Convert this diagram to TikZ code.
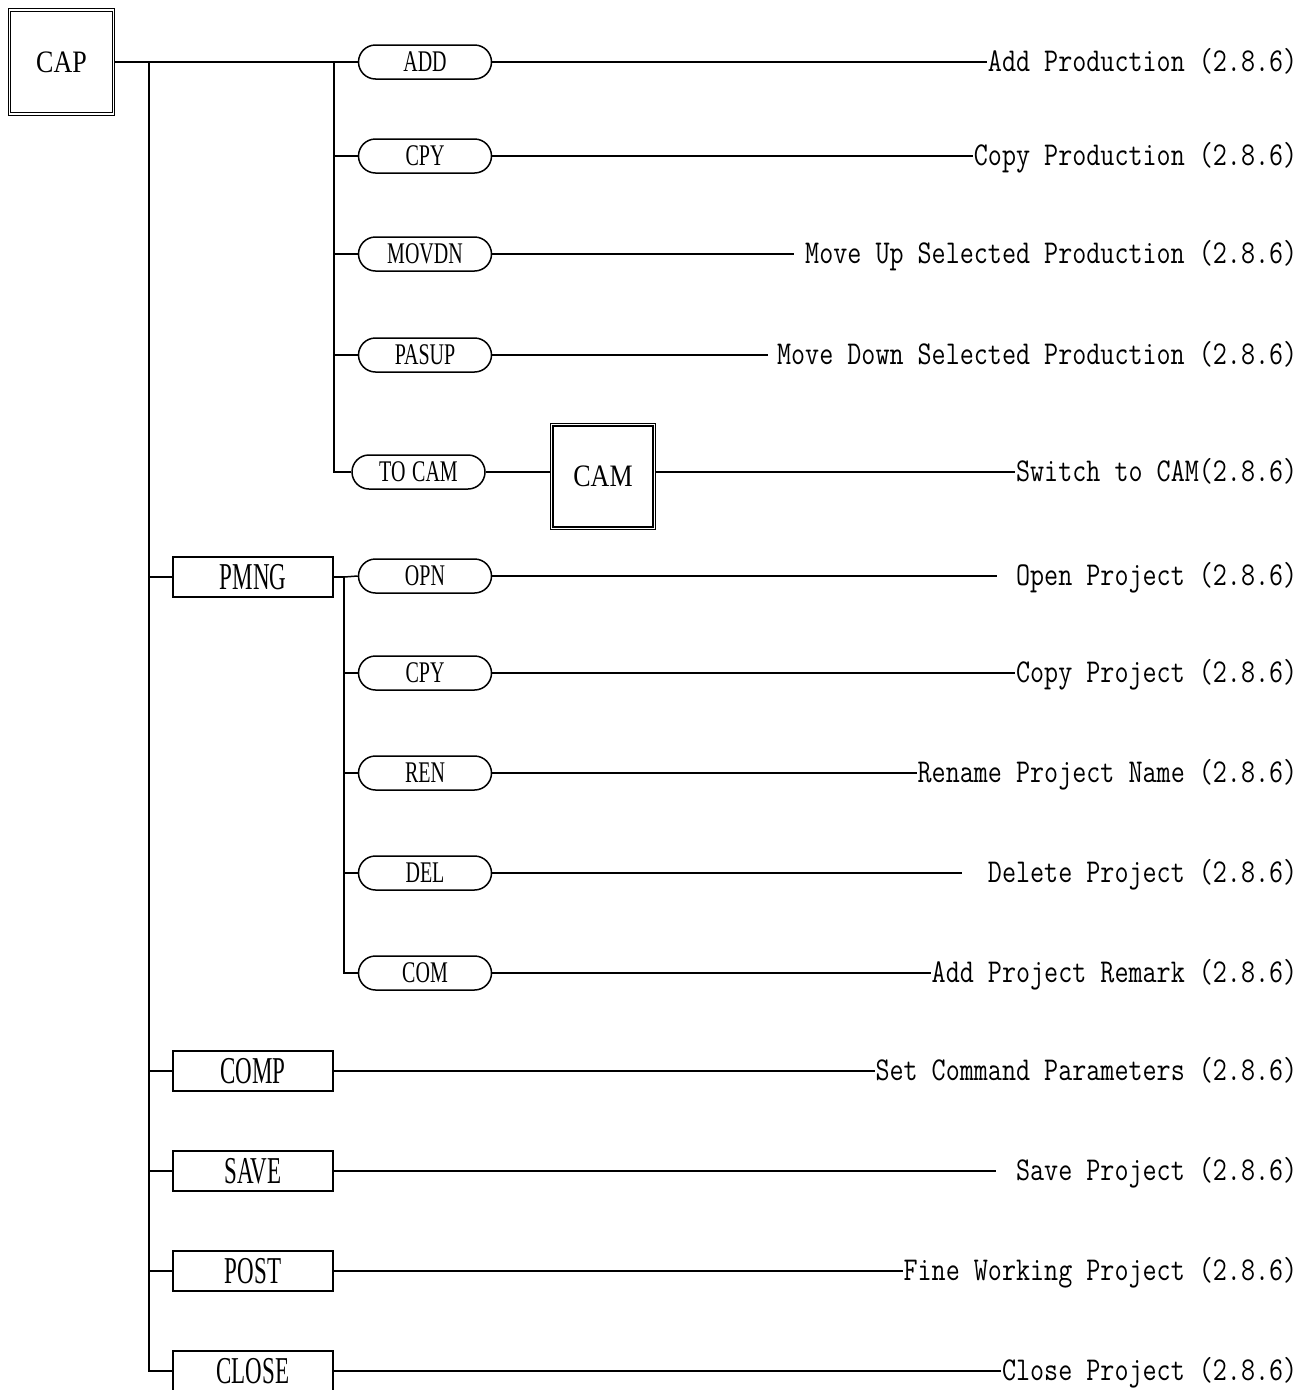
\documentclass[tikz,border=0pt]{standalone}
\usepackage{fontspec}
\setmainfont{Liberation Serif}
\newcommand\pl[1]{\scalebox{1}[1.5]{#1}}
\newcommand\bl[1]{\scalebox{1}[1.65]{#1}}
\newcommand\dl[1]{\scalebox{1}[1.22]{#1}}
\newcommand\cl[1]{\scalebox{1}[1.2]{#1}}
\begin{document}
\begin{tikzpicture}[x=1pt,y=-1pt,
  line width=1.5pt,
  pill/.style={draw, rounded corners=17pt, minimum width=133pt, minimum height=34pt, inner sep=0pt,
    font=\fontsize{20}{24}\selectfont},
  rbox/.style={draw, minimum width=160pt, minimum height=40pt, inner sep=0pt,
    font=\fontsize{23}{28}\selectfont},
  dbox/.style={draw, double, line width=1.2pt, double distance=1.2pt, inner sep=0pt,
    font=\fontsize{26}{30}\selectfont},
  desc/.style={inner sep=0pt, anchor=base east, font=\ttfamily\fontsize{27.3}{30}\selectfont},
  trunk/.style={line width=2.5pt}
]
\useasboundingbox (0,0) rectangle (1312,1390);

% top-level boxes
\node[dbox, minimum width=104pt, minimum height=104pt] (cap) at (61.5,62) {\cl{CAP}};
\node[dbox, minimum width=102.4pt, minimum height=103.4pt] (cam) at (603,476.5) {\cl{CAM}};

% pills of CAP
\node[pill] (add)   at (425,62)  {\pl{ADD}};
\node[pill] (cpyA)  at (425,156) {\pl{CPY}};
\node[pill] (movdn) at (425,254) {\pl{MOVDN}};
\node[pill] (pasup) at (425,355) {\pl{PASUP}};
\node[pill] (tocam) at (418.5,472) {\pl{TO\,\,CAM}};

% rect boxes
\node[rbox] (pmng)  at (253,577)  {\bl{PMNG}};
\node[rbox] (comp)  at (253,1071) {\bl{COMP}};
\node[rbox] (save)  at (253,1171) {\bl{SAVE}};
\node[rbox] (post)  at (253,1271) {\bl{POST}};
\node[rbox] (close) at (253,1371) {\bl{CLOSE}};

% pills of PMNG
\node[pill] (opn)  at (425,576) {\pl{OPN}};
\node[pill] (cpyB) at (425,673) {\pl{CPY}};
\node[pill] (ren)  at (425,773) {\pl{REN}};
\node[pill] (del)  at (425,873) {\pl{DEL}};
\node[pill] (com)  at (425,973) {\pl{COM}};

% descriptions
\node[desc] (tadd)   at (1298,71)   {\dl{Add Production (2.8.6)}};
\node[desc] (tcpyA)  at (1298,165)  {\dl{Copy Production (2.8.6)}};
\node[desc] (tmovdn) at (1298,263)  {\dl{Move Up Selected Production (2.8.6)}};
\node[desc] (tpasup) at (1298,364)  {\dl{Move Down Selected Production (2.8.6)}};
\node[desc] (tcam)   at (1298,481)  {\dl{Switch to CAM(2.8.6)}};
\node[desc] (topn)   at (1298,585)  {\dl{Open Project (2.8.6)}};
\node[desc] (tcpyB)  at (1298,682)  {\dl{Copy Project (2.8.6)}};
\node[desc] (tren)   at (1298,782)  {\dl{Rename Project Name (2.8.6)}};
\node[desc] (tdel)   at (1298,882)  {\dl{Delete Project (2.8.6)}};
\node[desc] (tcom)   at (1298,982)  {\dl{Add Project Remark (2.8.6)}};
\node[desc] (tcomp)  at (1298,1080) {\dl{Set Command Parameters (2.8.6)}};
\node[desc] (tsave)  at (1298,1180) {\dl{Save Project (2.8.6)}};
\node[desc] (tpost)  at (1298,1280) {\dl{Fine Working Project (2.8.6)}};
\node[desc] (tclose) at (1298,1380) {\dl{Close Project (2.8.6)}};

% junction coordinates
\coordinate (t0) at (149,62);
\coordinate (t1) at (334,62);
\coordinate (j2) at (344,577);

% CAP connectors
\draw[trunk] (cap.east) -- (t1);
\draw (t1) -- (add.west);
\draw (t1) |- (tocam.west);
\foreach \n in {cpyA,movdn,pasup} \draw (t1 |- \n.west) -- (\n.west);
\draw (tocam.east) -- (cam.west |- tocam.east);

% main trunk
\draw (t0) |- (close.west);
\foreach \n in {pmng,comp,save,post} \draw (t0 |- \n.west) -- (\n.west);

% PMNG connectors
\draw[trunk] (pmng.east) -- (j2);
\draw (j2) -- (opn.west);
\draw (j2) |- (com.west);
\foreach \n in {cpyB,ren,del} \draw (j2 |- \n.west) -- (\n.west);

% to descriptions
\draw (add.east) -- (tadd.west |- add.east);
\draw (cpyA.east) -- (tcpyA.west |- cpyA.east);
\draw[shorten >=10pt] (movdn.east) -- (tmovdn.west |- movdn.east);
\draw[shorten >=8pt] (pasup.east) -- (tpasup.west |- pasup.east);
\draw (cam.east |- tocam.east) -- (tcam.west |- tocam.east);
\draw[shorten >=18pt] (opn.east) -- (topn.west |- opn.east);
\draw (cpyB.east) -- (tcpyB.west |- cpyB.east);
\draw (ren.east) -- (tren.west |- ren.east);
\draw[shorten >=25pt] (del.east) -- (tdel.west |- del.east);
\draw (com.east) -- (tcom.west |- com.east);
\draw (comp.east) -- (tcomp.west |- comp.east);
\draw[shorten >=19pt] (save.east) -- (tsave.west |- save.east);
\draw (post.east) -- (tpost.west |- post.east);
\draw (close.east) -- (tclose.west |- close.east);
\end{tikzpicture}
\end{document}
